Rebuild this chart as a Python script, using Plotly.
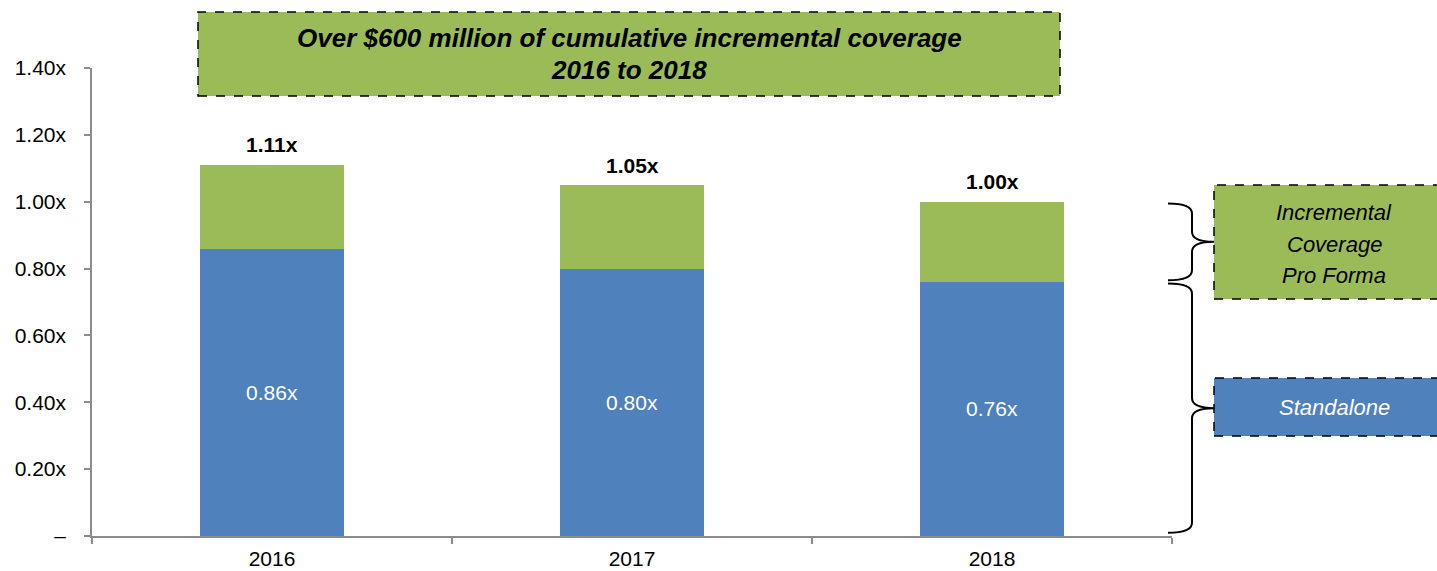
import plotly.graph_objects as go

# ---- data ----
years = ["2016", "2017", "2018"]
standalone = [0.86, 0.80, 0.76]
incremental = [0.25, 0.25, 0.24]
totals = [1.11, 1.05, 1.00]
standalone_labels = ["0.86x", "0.80x", "0.76x"]
total_labels = ["1.11x", "1.05x", "1.00x"]
y_tickvals = [0, 0.2, 0.4, 0.6, 0.8, 1.0, 1.2, 1.4]
y_ticktext = ["–", "0.20x", "0.40x", "0.60x", "0.80x", "1.00x", "1.20x", "1.40x"]
title_lines = ["Over $600 million of cumulative incremental coverage", "2016 to 2018"]
incr_box_lines = ["Incremental", "Coverage", "Pro Forma"]
standalone_box_text = "Standalone"

BLUE = "#4F81BD"
GREEN = "#9BBB59"
AXIS = "#8C8C8C"
FONT = "Liberation Sans, Arial, sans-serif"

W, H = 1437, 571
L, R, T, B = 92, 265, 68, 35
PW, PH = W - L - R, H - T - B


def px(x):  # pixel x -> paper x
    return (x - L) / PW


def py(y):  # pixel y -> paper y
    return (H - B - y) / PH


fig = go.Figure()
fig.add_trace(go.Bar(
    x=years, y=standalone, marker_color=BLUE, marker_line_width=0,
    text=standalone_labels, textposition="inside", insidetextanchor="middle",
    textfont=dict(color="white", size=21, family=FONT), name="Standalone",
    hoverinfo="skip"))
fig.add_trace(go.Bar(
    x=years, y=incremental, marker_color=GREEN, marker_line_width=0,
    name="Incremental", hoverinfo="skip"))

annotations = []
for i, (tot, lab) in enumerate(zip(totals, total_labels)):
    annotations.append(dict(x=i, y=tot, xref="x", yref="y", text="<b>%s</b>" % lab,
                            showarrow=False, xanchor="center", yanchor="middle",
                            yshift=20,
                            font=dict(size=21, family=FONT, color="black")))

# title box
shapes = [dict(type="rect", xref="paper", yref="paper",
               x0=px(198), x1=px(1060), y0=py(96), y1=py(12),
               fillcolor=GREEN, line=dict(color="black", width=1.5, dash="dash"),
               layer="above")]
for line, ypix in zip(title_lines, [38, 70]):
    annotations.append(dict(x=px(629), y=py(ypix), xref="paper", yref="paper",
                            text="<b><i>%s</i></b>" % line, showarrow=False,
                            xanchor="center", yanchor="middle",
                            font=dict(size=26, family=FONT, color="black")))

# right side boxes
shapes.append(dict(type="rect", xref="paper", yref="paper",
                   x0=px(1214), x1=px(1460), y0=py(299), y1=py(185),
                   fillcolor=GREEN, line=dict(color="black", width=1.5, dash="dash")))
shapes.append(dict(type="rect", xref="paper", yref="paper",
                   x0=px(1214), x1=px(1460), y0=py(436), y1=py(378),
                   fillcolor=BLUE, line=dict(color="black", width=1.5, dash="dash")))
for line, ypix in zip(incr_box_lines, [212, 244, 275]):
    annotations.append(dict(x=px(1334), y=py(ypix), xref="paper", yref="paper",
                            text="<i>%s</i>" % line, showarrow=False,
                            xanchor="center", yanchor="middle",
                            font=dict(size=22, family=FONT, color="black")))
annotations.append(dict(x=px(1334), y=py(407), xref="paper", yref="paper",
                        text="<i>%s</i>" % standalone_box_text, showarrow=False,
                        xanchor="center", yanchor="middle",
                        font=dict(size=22, family=FONT, color="white")))


def brace(ytop, ybot, r=0.03):
    x0, x1, xt = px(1168), px(1192), px(1214)
    ym = (ytop + ybot) / 2
    return ("M %f,%f Q %f,%f %f,%f L %f,%f Q %f,%f %f,%f Q %f,%f %f,%f "
            "L %f,%f Q %f,%f %f,%f") % (
        x0, ytop, x1, ytop, x1, ytop - r,
        x1, ym + r,
        x1, ym, xt, ym,
        x1, ym, x1, ym - r,
        x1, ybot + r,
        x1, ybot, x0, ybot)


shapes.append(dict(type="path", xref="paper", yref="y",
                   path=brace(totals[-1] - 0.005, standalone[-1] + 0.005),
                   line=dict(color="black", width=2)))
shapes.append(dict(type="path", xref="paper", yref="y",
                   path=brace(standalone[-1] - 0.005, 0.01),
                   line=dict(color="black", width=2)))

fig.update_layout(
    width=W, height=H, margin=dict(l=L, r=R, t=T, b=B, autoexpand=False),
    barmode="stack", bargap=0.6, showlegend=False,
    plot_bgcolor="white", paper_bgcolor="white",
    font=dict(family=FONT, size=21, color="black"),
    shapes=shapes, annotations=annotations,
    xaxis=dict(type="category", range=[-0.5, 2.5], showline=True, linecolor=AXIS,
               linewidth=1.5, ticks="outside", tickson="boundaries", ticklen=6,
               tickcolor=AXIS, tickwidth=1.5, showgrid=False, zeroline=False,
               ticklabelstandoff=3,
               tickfont=dict(size=21, family=FONT, color="black")),
    yaxis=dict(range=[0, 1.4], tickvals=y_tickvals, ticktext=y_ticktext,
               showline=True, linecolor=AXIS, linewidth=1.5, ticks="outside",
               ticklen=6, tickcolor=AXIS, tickwidth=1.5, showgrid=False,
               zeroline=False, ticklabelstandoff=14,
               tickfont=dict(size=21, family=FONT, color="black")),
)

fig.write_html("out.html", config={"displayModeBar": False},
               post_script="document.body.style.margin='0';"
                           "document.body.style.overflow='hidden';")
